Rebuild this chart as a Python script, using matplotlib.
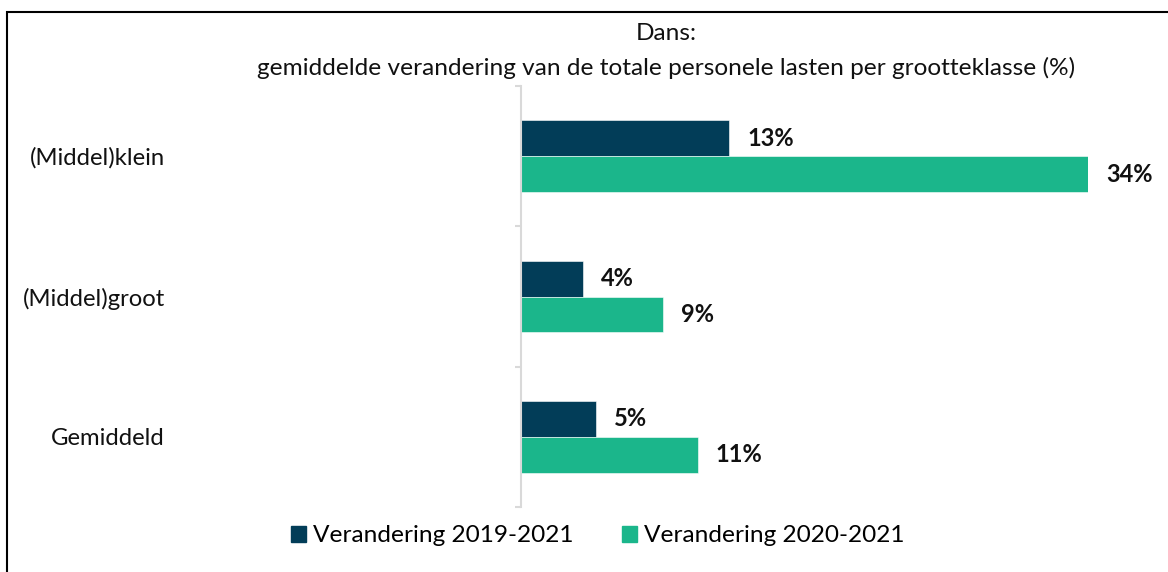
import matplotlib
matplotlib.use("Agg")
import matplotlib.pyplot as plt
from matplotlib.patches import Rectangle, Patch
import numpy as np

categories = ["(Middel)klein", "(Middel)groot", "Gemiddeld"]
series_names = ["Verandering 2019-2021", "Verandering 2020-2021"]
values_1921 = [12.5, 3.7, 4.5]
values_2021 = [34.0, 8.5, 10.6]
labels_1921 = ["13%", "4%", "5%"]
labels_2021 = ["34%", "9%", "11%"]
title_lines = ["Dans:", "gemiddelde verandering van de totale personele lasten per grootteklasse (%)"]

dark = "#023d58"
green = "#1bb68b"
axis_gray = "#d9d9d9"

plt.rcParams["font.family"] = ["Lato", "DejaVu Sans"]

fig = plt.figure(figsize=(11.68, 5.72), dpi=100)
ax = fig.add_axes([521/1168, 1-507/572, (1088-521)/1168, (507-86)/572])

y = np.arange(len(categories))
h = 0.256
ax.barh(y - h/2, values_1921, height=h, color=dark, edgecolor="white", linewidth=0.4)
ax.barh(y + h/2, values_2021, height=h, color=green, edgecolor="white", linewidth=0.4)

ax.set_xlim(0, 34.0)
ax.set_ylim(2.5, -0.5)

for yi, v, lab in zip(y, values_1921, labels_1921):
    ax.annotate(lab, (v, yi - h/2), xytext=(13, 0), textcoords="offset points",
                va="center", ha="left", fontsize=17, fontweight="bold", color="#111111",
                annotation_clip=False)
for yi, v, lab in zip(y, values_2021, labels_2021):
    ax.annotate(lab, (v, yi + h/2), xytext=(13, 0), textcoords="offset points",
                va="center", ha="left", fontsize=17, fontweight="bold", color="#111111",
                annotation_clip=False)

for s in ["top", "right", "bottom"]:
    ax.spines[s].set_visible(False)
ax.spines["left"].set_color(axis_gray)
ax.spines["left"].set_linewidth(1.5)
ax.set_xticks([])
ax.set_yticks(y)
ax.set_yticklabels(categories, fontsize=17.2, color="#111111")
ax.tick_params(axis="y", which="major", length=0, pad=(521-165)*0.72)
ax.set_yticks([-0.5, 0.5, 1.5, 2.5], minor=True)
ax.tick_params(axis="y", which="minor", length=4.5, width=1.5, color=axis_gray)

fig.text(666/1168, 1-34/572, title_lines[0], ha="center", va="center", fontsize=17.6, color="#111111")
fig.text(666/1168, 1-68/572, title_lines[1], ha="center", va="center", fontsize=17.6, color="#111111")

handles = [Patch(color=dark, label=series_names[0]), Patch(color=green, label=series_names[1])]
fig.legend(handles=handles, loc="center", bbox_to_anchor=(598/1168, 1-536/572), ncol=2,
           frameon=False, fontsize=17.6, handlelength=0.6, handleheight=0.6,
           handletextpad=0.3, columnspacing=2.0)

fig.patches.append(Rectangle((7/1168, -0.1), 1.2, 1-12/572+0.1, transform=fig.transFigure,
                             fill=False, edgecolor="black", linewidth=1.5))

fig.savefig("out.png", dpi=100)
